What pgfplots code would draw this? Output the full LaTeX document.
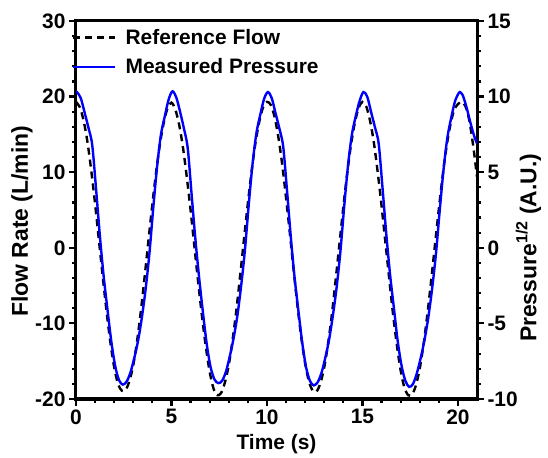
\documentclass[border=0pt]{standalone}
\usepackage{fontspec}
\setmainfont{Liberation Sans}
\usepackage{pgfplots}
\pgfplotsset{compat=1.18}
\usepackage{pgfplotstable}

\pgfplotstableread{
t v
0.0 19.3
0.2 18.6
0.4 16.8
0.6 14.0
0.8 10.2
1.0 5.8
1.2 1.0
1.4 -3.8
1.6 -8.4
1.8 -12.5
2.0 -15.8
2.2 -18.0
2.4 -18.9
2.6 -18.8
2.8 -17.6
3.0 -15.5
3.2 -12.3
3.4 -8.3
3.6 -3.7
3.8 1.1
4.0 5.8
4.2 10.1
4.4 13.8
4.6 16.6
4.8 18.5
5.0 19.2
5.2 18.3
5.4 16.3
5.6 13.3
5.8 9.4
6.0 5.0
6.2 0.2
6.4 -4.6
6.6 -9.1
6.8 -13.1
7.0 -16.4
7.2 -18.6
7.4 -19.5
7.6 -19.2
7.8 -17.8
8.0 -15.5
8.2 -12.2
8.4 -8.2
8.6 -3.6
8.8 1.2
9.0 5.9
9.2 10.2
9.4 13.9
9.6 16.7
9.8 18.6
10.0 19.3
10.2 18.9
10.4 17.3
10.6 14.6
10.8 11.0
11.0 6.6
11.2 1.9
11.4 -3.0
11.6 -7.7
11.8 -11.9
12.0 -15.3
12.2 -17.7
12.4 -18.9
12.6 -19.0
12.8 -17.9
13.0 -15.8
13.2 -12.7
13.4 -8.8
13.6 -4.2
13.8 0.6
14.0 5.4
14.2 9.8
14.4 13.6
14.6 16.5
14.8 18.5
15.0 19.3
15.2 18.7
15.4 16.8
15.6 13.9
15.8 10.0
16.0 5.6
16.2 0.8
16.4 -4.0
16.6 -8.7
16.8 -12.8
17.0 -16.2
17.2 -18.5
17.4 -19.5
17.6 -19.4
17.8 -18.2
18.0 -16.0
18.2 -12.8
18.4 -8.8
18.6 -4.3
18.8 0.4
19.0 5.1
19.2 9.5
19.4 13.3
19.6 16.2
19.8 18.2
20.0 19.0
20.2 19.3
20.4 18.7
20.6 16.8
20.8 13.5
21.0 9.4
}\flowtable

\pgfplotstableread{
t p
0.00 10.25
0.05 10.3
0.25 9.9
0.45 8.95
0.65 7.95
0.85 6.8
1.05 3.9
1.25 0.8
1.45 -1.9
1.65 -4.1
1.85 -6.2
2.05 -7.8
2.25 -8.75
2.45 -9.05
2.65 -8.85
2.85 -8.25
3.05 -7.3
3.25 -6.15
3.45 -4.6
3.65 -2.7
3.85 -0.3
4.05 2.7
4.25 5.4
4.45 7.5
4.65 8.7
4.85 9.8
5.05 10.35
5.25 9.95
5.45 9.0
5.65 7.9
5.85 6.6
6.05 3.6
6.25 0.6
6.45 -2.0
6.65 -4.3
6.85 -6.4
7.05 -7.9
7.25 -8.7
7.45 -8.95
7.65 -8.8
7.85 -8.2
8.05 -7.2
8.25 -6.0
8.45 -4.5
8.65 -2.5
8.85 -0.1
9.05 2.9
9.25 5.6
9.45 7.6
9.65 8.8
9.85 9.85
10.05 10.3
10.25 9.9
10.45 8.9
10.65 7.9
10.85 6.7
11.05 3.8
11.25 0.7
11.45 -2.0
11.65 -4.2
11.85 -6.3
12.05 -7.9
12.25 -8.8
12.45 -9.1
12.65 -8.9
12.85 -8.3
13.05 -7.3
13.25 -6.1
13.45 -4.5
13.65 -2.6
13.85 -0.2
14.05 2.8
14.25 5.5
14.45 7.5
14.65 8.7
14.85 9.7
15.05 10.3
15.25 10.0
15.45 9.0
15.65 8.0
15.85 6.9
16.05 4.0
16.25 0.9
16.45 -1.8
16.65 -4.0
16.85 -6.2
17.05 -7.8
17.25 -8.8
17.45 -9.2
17.65 -9.0
17.85 -8.3
18.05 -7.3
18.25 -6.1
18.45 -4.6
18.65 -2.7
18.85 -0.4
19.05 2.5
19.25 5.2
19.45 7.3
19.65 8.6
19.85 9.7
20.05 10.25
20.10 10.3
20.25 10.1
20.45 9.3
20.65 8.3
20.85 7.4
21.00 6.9
}\presstable

\begin{document}
\begin{tikzpicture}
\pgfplotsset{
  common/.style={
    scale only axis,
    width=401bp, height=378bp,
    xmin=0, xmax=21,
    /pgf/number format/assume math mode=true,
    tick label style={font=\bfseries\fontsize{21}{24}\selectfont},
    label style={font=\bfseries\fontsize{21}{24}\selectfont},
    ylabel style={font=\bfseries\fontsize{23}{26}\selectfont},
    tick align=outside,
    major tick length=7bp,
    minor tick length=4bp,
    every tick/.style={black, line width=2.2bp},
    axis line style={line width=3bp},
  }
}
\begin{axis}[
  common,
  ymin=-20, ymax=30,
  xtick={0,5,10,15,20},
  minor x tick num=4,
  ytick={-20,-10,0,10,20,30},
  minor y tick num=4,
  xtick pos=bottom,
  ytick pos=left,
  xlabel={Time (s)},
  ylabel={Flow Rate (L/min)},
  xlabel style={at={(axis description cs:0.5,-0.119)}, anchor=center},
  ylabel style={at={(axis description cs:-0.1347,0.47)}, anchor=center},
]
\addplot[black, line width=2.4bp, dash pattern=on 7bp off 5bp, smooth, tension=0.5] table[x=t,y=v] {\flowtable};
\end{axis}
\begin{axis}[
  common,
  ymin=-10, ymax=15,
  axis x line=none,
  axis y line*=right,
  ytick={-10,-5,0,5,10,15},
  minor y tick num=4,
  ylabel={Pressure\textsuperscript{1/2} (A.U.)},
  ylabel style={at={(axis description cs:1.128,0.40)}, anchor=center, rotate=0},
  legend cell align=left,
  legend image code/.code={\draw[#1] (0bp,0bp) -- (42bp,0bp); \path (49bp,0bp);},
  legend style={at={(axis description cs:0,1)}, anchor=north west, draw=none, fill=none,
    font=\bfseries\fontsize{21}{24}\selectfont, row sep=9bp, inner xsep=0pt, inner ysep=4bp,
    xshift=-4bp, yshift=-2bp},
]
\addlegendimage{black, line width=2.4bp, dash pattern=on 7bp off 5bp}
\addlegendentry{Reference Flow}
\addplot[blue, line width=2.4bp, smooth, tension=0.5] table[x=t,y=p] {\presstable};
\addlegendentry{Measured Pressure}
\end{axis}
\pgfresetboundingbox
\path[use as bounding box] (-76bp,-59bp) rectangle (472bp,399bp);
\end{tikzpicture}
\end{document}
